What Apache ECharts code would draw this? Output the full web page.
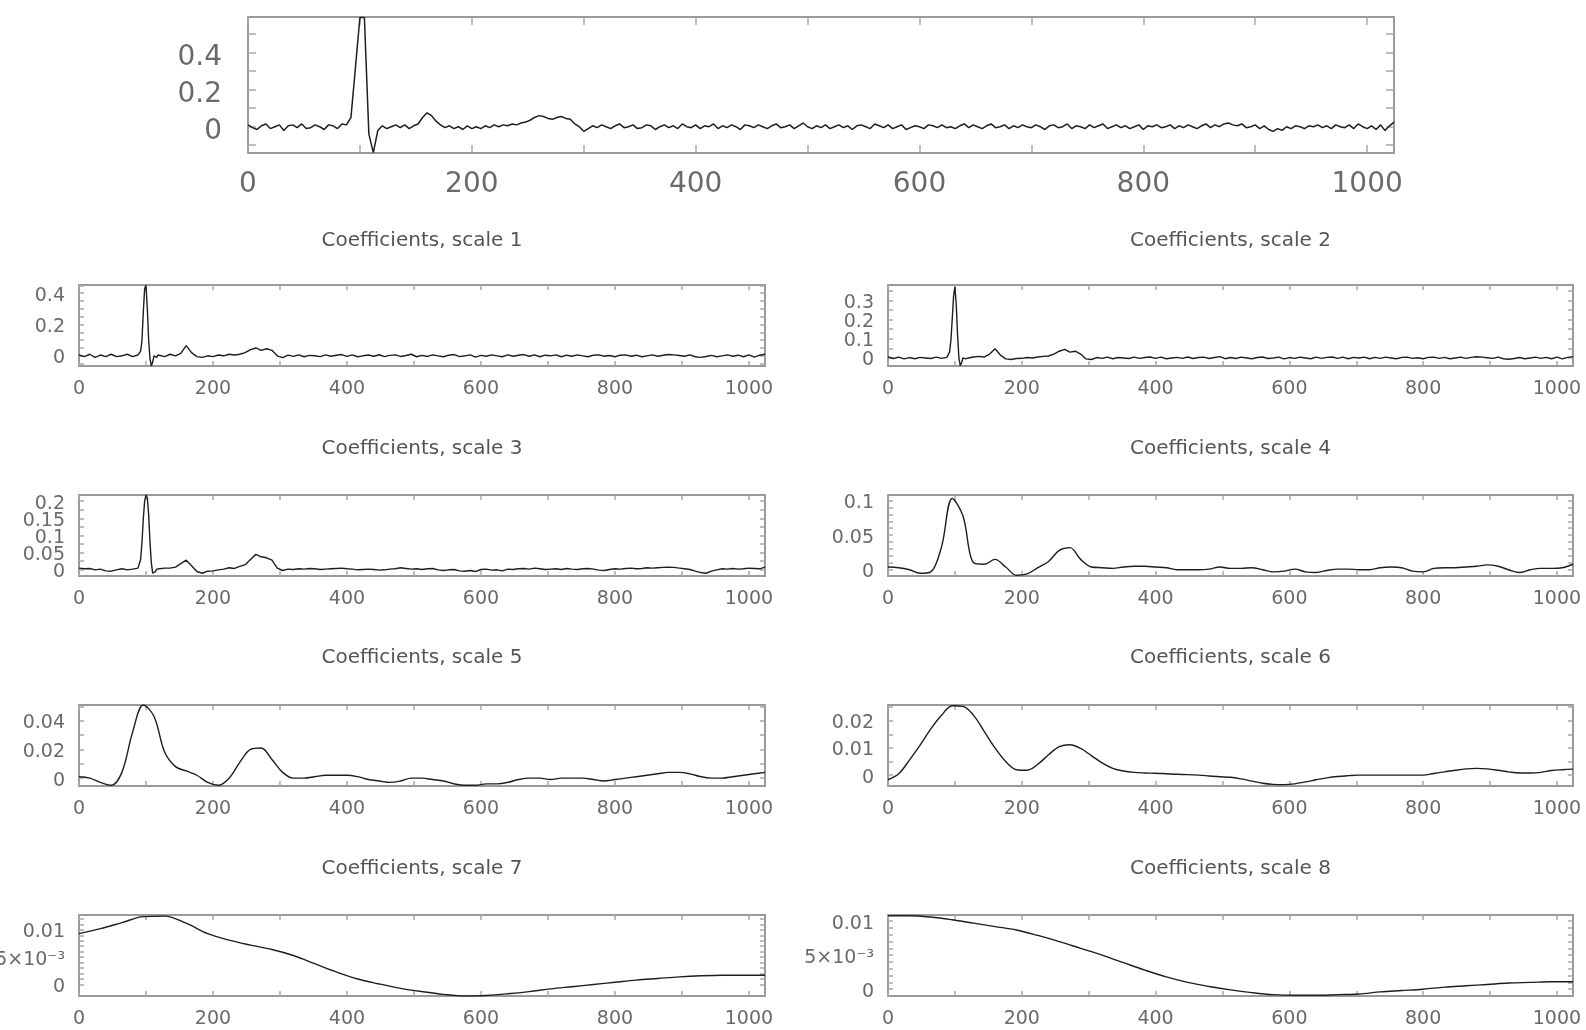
<!DOCTYPE html>
<html>
<head>
<meta charset="utf-8">
<script src="https://cdn.jsdelivr.net/npm/echarts@6/dist/echarts.min.js"></script>
<style>
  html, body { margin: 0; padding: 0; background: #fff; }
  #chart { width: 1586px; height: 1030px; }
</style>
</head>
<body>
<div id="chart"></div>
<script>
// sample positions of the raw signal (top panel)
const X_TOP = [
  0, 4, 8, 12, 16, 20, 24, 28, 32, 36, 40, 44, 48, 52, 56, 60,
  64, 68, 72, 76, 80, 84, 88, 92, 96, 100, 104, 108, 112, 116, 120, 124,
  128, 132, 136, 140, 144, 148, 152, 156, 160, 164, 168, 172, 176, 180, 184, 188,
  192, 196, 200, 204, 208, 212, 216, 220, 224, 228, 232, 236, 240, 244, 248, 252,
  256, 260, 264, 268, 272, 276, 280, 284, 288, 292, 296, 300, 304, 308, 312, 316,
  320, 324, 328, 332, 336, 340, 344, 348, 352, 356, 360, 364, 368, 372, 376, 380,
  384, 388, 392, 396, 400, 404, 408, 412, 416, 420, 424, 428, 432, 436, 440, 444,
  448, 452, 456, 460, 464, 468, 472, 476, 480, 484, 488, 492, 496, 500, 504, 508,
  512, 516, 520, 524, 528, 532, 536, 540, 544, 548, 552, 556, 560, 564, 568, 572,
  576, 580, 584, 588, 592, 596, 600, 604, 608, 612, 616, 620, 624, 628, 632, 636,
  640, 644, 648, 652, 656, 660, 664, 668, 672, 676, 680, 684, 688, 692, 696, 700,
  704, 708, 712, 716, 720, 724, 728, 732, 736, 740, 744, 748, 752, 756, 760, 764,
  768, 772, 776, 780, 784, 788, 792, 796, 800, 804, 808, 812, 816, 820, 824, 828,
  832, 836, 840, 844, 848, 852, 856, 860, 864, 868, 872, 876, 880, 884, 888, 892,
  896, 900, 904, 908, 912, 916, 920, 924, 928, 932, 936, 940, 944, 948, 952, 956,
  960, 964, 968, 972, 976, 980, 984, 988, 992, 996, 1000, 1004, 1008, 1012, 1016, 1020,
  1024
];
// sample positions for scales 1-3 (dense around the spike at ~100)
const X_FINE = [
  0, 8, 16, 24, 32, 40, 48, 56, 64, 72, 80, 88,
  90, 92, 94, 96, 98, 100, 102, 104, 106, 108, 110, 112, 114, 116, 118,
  120, 128, 136, 144, 152, 160, 168, 176, 184, 192, 200,
  208, 216, 224, 232, 240, 248, 256, 264, 272, 280, 288, 296,
  304, 312, 320, 328, 336, 344, 352, 360, 368, 376,
  384, 392, 400, 408, 416, 424, 432, 440, 448, 456,
  464, 472, 480, 488, 496, 504, 512, 520, 528, 536,
  544, 552, 560, 568, 576, 584, 592, 600, 608, 616,
  624, 632, 640, 648, 656, 664, 672, 680, 688, 696,
  704, 712, 720, 728, 736, 744, 752, 760, 768, 776,
  784, 792, 800, 808, 816, 824, 832, 840, 848, 856,
  864, 872, 880, 888, 896, 904, 912, 920, 928, 936,
  944, 952, 960, 968, 976, 984, 992, 1000, 1008, 1016,
  1024
];
const X_16 = [
  0, 16, 32, 48, 64, 80, 96, 112, 128, 144, 160, 176, 192, 208, 224, 240,
  256, 272, 288, 304, 320, 336, 352, 368, 384, 400, 416, 432, 448, 464, 480, 496,
  512, 528, 544, 560, 576, 592, 608, 624, 640, 656, 672, 688, 704, 720, 736, 752,
  768, 784, 800, 816, 832, 848, 864, 880, 896, 912, 928, 944, 960, 976, 992, 1008,
  1024
];
const X_32 = [
  0, 32, 64, 96, 128, 160, 192, 224, 256, 288, 320, 352, 384, 416, 448, 480,
  512, 544, 576, 608, 640, 672, 704, 736, 768, 800, 832, 864, 896, 928, 960, 992,
  1024
];

// raw signal (top panel), on X_TOP
const signal = [
  0.01, -0.005, -0.015, 0.005, 0.015, -0.01, 0.0, 0.01, -0.02, 0.005, 0.01,
  -0.005, 0.015, -0.01, -0.005, 0.01, 0.0, -0.015, 0.01, 0.005, -0.01, 0.015,
  0.01, 0.05, 0.32, 0.59, 0.59, -0.04, -0.14, -0.02,
  0.005, -0.01, 0.0, 0.01, -0.005, 0.01, -0.01, 0.005, 0.015, 0.05,
  0.075, 0.06, 0.03, 0.01, -0.005, 0.005, -0.01, 0.0, -0.015, 0.005,
  -0.01, 0.0, -0.01, 0.005, -0.005, 0.01, 0.0, 0.01, 0.005, 0.015,
  0.01, 0.02, 0.025, 0.035, 0.05, 0.06, 0.055, 0.045, 0.04, 0.05,
  0.055, 0.045, 0.04, 0.015, 0.0,
  -0.025, -0.01, 0.005, -0.005, 0.01, 0.0, -0.01, 0.005, 0.015, -0.005,
  0.0, 0.01, -0.01, -0.005, 0.01, 0.005, -0.015, 0.0, 0.01, -0.005,
  0.005, -0.01, 0.015, 0.0, -0.005, 0.01, -0.01, 0.005, 0.0, 0.015,
  -0.01, 0.005, -0.005, 0.01, 0.0, -0.015, 0.01, 0.005, -0.005, 0.01,
  0.0, -0.01, 0.005, 0.015, -0.005, 0.0, 0.01, -0.01, 0.005, 0.02,
  0.0, -0.01, 0.005, -0.005, 0.01, -0.01, 0.0, 0.01, -0.005, 0.005,
  -0.015, 0.005, 0.01, 0.0, -0.01, 0.015, 0.005, -0.005, 0.01, -0.01,
  0.0, 0.01, -0.015, -0.005, 0.005, 0.0, -0.01, 0.01, 0.005, -0.005,
  0.01, -0.005, 0.0, -0.01, 0.005, 0.015, -0.005, 0.01, 0.0, -0.01,
  0.005, 0.015, -0.005, 0.0, 0.01, -0.01, 0.005, -0.005, 0.01, 0.0,
  -0.005, 0.01, 0.0, -0.015, 0.005, 0.01, -0.005, 0.0, 0.015, -0.01,
  0.005, 0.0, -0.01, 0.01, -0.005, 0.005, 0.015, -0.01, 0.0, 0.01,
  -0.005, 0.005, -0.01, 0.0, 0.01, -0.015, 0.005, 0.0, 0.01, -0.005,
  0.0, 0.01, -0.01, 0.005, -0.005, 0.01, 0.0, -0.01, 0.005, 0.015,
  -0.005, 0.01, 0.0, 0.015, 0.02, 0.01, 0.005, 0.015, -0.005, 0.0,
  0.01, -0.01, 0.005, -0.015, -0.025, -0.01, -0.02, 0.0, -0.01, 0.005,
  0.0, -0.01, 0.005, 0.0, 0.01, -0.005, 0.005, -0.01, 0.01, 0.0,
  -0.005, 0.01, -0.01, 0.015, 0.0, -0.01, 0.005, -0.015, 0.01, -0.02,
  0.005, 0.025
];
const scale1 = [
  0.005, -0.005, 0.01, -0.01, 0.005, -0.005, 0.01, -0.005, 0.0, 0.01, -0.005, 0.005,
  0.01, 0.03, 0.1, 0.28, 0.43, 0.45, 0.3, 0.1, -0.02, -0.065, -0.04, 0.0, 0.01, -0.01, 0.005,
  0.005, -0.005, 0.01, 0.0, 0.015, 0.065, 0.02, -0.005, -0.01, 0.0, -0.005,
  0.005, 0.0, 0.01, 0.005, 0.01, 0.02, 0.04, 0.05, 0.035, 0.045, 0.035, 0.0,
  -0.012, 0.004, -0.004, 0.006, -0.006, 0.003, 0.0, -0.005, 0.006, -0.003,
  0.004, 0.008, -0.004, 0.006, -0.006, 0.0, 0.005, -0.003, 0.007, -0.005,
  0.003, 0.006, -0.004, 0.002, 0.01, -0.006, 0.003, -0.004, 0.006, 0.0,
  -0.006, 0.004, 0.008, -0.005, 0.0, 0.006, -0.008, 0.003, -0.003, 0.006,
  0.0, -0.006, 0.006, -0.003, 0.004, 0.008, -0.003, 0.006, -0.006, 0.004,
  0.0, 0.006, -0.006, 0.004, -0.003, 0.006, 0.0, -0.006, 0.004, 0.006,
  -0.003, 0.002, -0.006, 0.004, 0.006, -0.003, 0.004, -0.006, 0.0, 0.006,
  -0.003, 0.004, 0.008, 0.006, 0.002, -0.003, 0.006, -0.006, -0.01, -0.004,
  0.003, -0.006, 0.0, 0.006, -0.003, 0.004, -0.006, 0.006, -0.008, 0.004,
  0.01
];
const scale2 = [
  0.005, -0.003, 0.004, -0.005, 0.002, -0.004, 0.003, 0.0, -0.003, 0.004, -0.002, 0.003,
  0.01, 0.03, 0.09, 0.2, 0.32, 0.37, 0.28, 0.12, 0.0, -0.04, -0.025, 0.0, 0.005, -0.005, 0.005,
  0.0, 0.005, 0.008, 0.005, 0.02, 0.048, 0.015, -0.005, -0.008, -0.003, -0.002,
  0.002, 0.0, 0.005, 0.008, 0.01, 0.02, 0.035, 0.045, 0.03, 0.035, 0.02, -0.005,
  -0.008, 0.002, -0.002, 0.004, -0.004, 0.002, 0.0, -0.003, 0.004, -0.002,
  0.002, 0.005, -0.002, 0.004, -0.004, 0.0, 0.003, -0.002, 0.005, -0.003,
  0.002, 0.004, -0.003, 0.002, 0.007, -0.004, 0.002, -0.003, 0.004, 0.0,
  -0.004, 0.002, 0.005, -0.003, 0.0, 0.004, -0.005, 0.002, -0.002, 0.004,
  0.0, -0.004, 0.004, -0.002, 0.003, 0.005, -0.002, 0.004, -0.004, 0.003,
  0.0, 0.004, -0.004, 0.003, -0.002, 0.004, 0.0, -0.004, 0.003, 0.004,
  -0.002, 0.001, -0.004, 0.003, 0.004, -0.002, 0.003, -0.004, 0.0, 0.004,
  -0.002, 0.003, 0.006, 0.004, 0.001, -0.002, 0.004, -0.004, -0.007, -0.003,
  0.002, -0.004, 0.0, 0.004, -0.002, 0.003, -0.004, 0.004, -0.005, 0.003,
  0.007
];
const scale3 = [
  0.005, 0.003, 0.004, 0.0, 0.002, -0.003, -0.004, 0.0, 0.003, 0.0, 0.002, 0.005,
  0.01, 0.03, 0.08, 0.15, 0.2, 0.218, 0.21, 0.16, 0.08, 0.02, -0.01, -0.015, -0.005, 0.002, 0.004,
  0.003, 0.005, 0.005, 0.008, 0.018, 0.028, 0.012, -0.005, -0.01, -0.004, -0.003,
  0.0, 0.002, 0.006, 0.004, 0.01, 0.015, 0.03, 0.045, 0.038, 0.035, 0.028, 0.005,
  -0.002, 0.002, 0.001, 0.003, 0.002, 0.004, 0.003, 0.001, 0.002, 0.003,
  0.004, 0.005, 0.003, 0.002, 0.0, 0.001, 0.002, 0.001, -0.001, 0.0,
  0.002, 0.003, 0.006, 0.004, 0.002, 0.003, 0.001, 0.003, 0.004, 0.0,
  -0.002, 0.0, 0.001, -0.003, -0.004, -0.002, -0.005, 0.001, 0.002, -0.001,
  0.0, -0.003, 0.002, 0.001, 0.003, 0.004, 0.002, 0.005, 0.003, 0.001,
  0.002, 0.003, 0.001, 0.004, 0.002, 0.001, 0.003, 0.004, 0.002, -0.001,
  -0.002, 0.001, 0.003, 0.002, 0.004, 0.005, 0.003, 0.004, 0.006, 0.005,
  0.006, 0.007, 0.008, 0.007, 0.005, 0.003, 0.001, -0.004, -0.008, -0.01,
  -0.004, 0.0, 0.003, 0.002, 0.004, 0.002, 0.003, 0.005, 0.004, 0.003,
  0.008
];
const scale4 = [
  0.004, 0.003, 0.0, -0.005, -0.003, 0.033, 0.103, 0.078, 0.01, 0.008, 0.015, 0.004, -0.008, -0.006, 0.003, 0.012,
  0.028, 0.032, 0.015, 0.004, 0.003, 0.002, 0.004, 0.005, 0.005, 0.004, 0.003, 0.0, 0.0, 0.0, 0.001, 0.004,
  0.002, 0.002, 0.003, 0.0, -0.003, -0.002, 0.001, -0.003, -0.004, -0.001, 0.001, 0.001, 0.0, 0.0, 0.003, 0.004,
  0.003, -0.002, -0.003, 0.002, 0.003, 0.003, 0.004, 0.005, 0.007, 0.005, 0.0, -0.004, 0.0, 0.002, 0.002, 0.003,
  0.008
];
const scale5 = [
  0.001, 0.0, -0.003, -0.005, 0.004, 0.032, 0.051, 0.043, 0.018, 0.008, 0.005, 0.002, -0.003, -0.005, 0.0, 0.011,
  0.02, 0.021, 0.013, 0.004, 0.0, 0.0, 0.001, 0.002, 0.002, 0.002, 0.001, -0.001, -0.002, -0.003, -0.002, 0.0,
  0.0, -0.001, -0.002, -0.004, -0.005, -0.005, -0.004, -0.004, -0.003, -0.001, 0.0, 0.0, -0.001, 0.0, 0.0, 0.0,
  -0.001, -0.002, -0.001, 0.0, 0.001, 0.002, 0.003, 0.004, 0.004, 0.003, 0.001, 0.0, 0.0, 0.001, 0.002, 0.003,
  0.004
];
const scale6 = [
  -0.0017, 0.0005, 0.0055, 0.011, 0.017, 0.022, 0.0255, 0.0253, 0.022, 0.016, 0.01, 0.005, 0.002, 0.0018, 0.004, 0.0075,
  0.0105, 0.0112, 0.0098, 0.0072, 0.0045, 0.0025, 0.0015, 0.001, 0.0008, 0.0007, 0.0005, 0.0003, 0.0002, 0.0, -0.0003, -0.0006,
  -0.0008, -0.0014, -0.0022, -0.003, -0.0034, -0.0035, -0.0032, -0.0025, -0.0017, -0.001, -0.0005, -0.0002, 0.0, 0.0, 0.0, 0.0,
  0.0, 0.0, 0.0, 0.0006, 0.0012, 0.0018, 0.0023, 0.0025, 0.0023, 0.0018, 0.0012, 0.0008, 0.0008, 0.001, 0.0017, 0.002,
  0.0022
];
const scale7 = [
  0.0093, 0.0102, 0.0113, 0.0124, 0.0125, 0.0112, 0.0093, 0.0081, 0.0072, 0.0064, 0.0053, 0.0038, 0.0023, 0.001, 0.0001, -0.0007,
  -0.0013, -0.0018, -0.0021, -0.002, -0.0017, -0.0013, -0.0008, -0.0004, 0.0, 0.0004, 0.0008, 0.0011, 0.0014, 0.0016, 0.0017, 0.0017,
  0.0017
];
const scale8 = [
  0.0108, 0.0108, 0.0106, 0.0102, 0.0097, 0.0092, 0.0087, 0.0079, 0.007, 0.006, 0.005, 0.0039, 0.0028, 0.0018, 0.001, 0.0004,
  -0.0001, -0.0005, -0.0008, -0.0009, -0.0009, -0.0008, -0.0007, -0.0004, -0.0002, 0.0, 0.0003, 0.0005, 0.0007, 0.0009, 0.001, 0.0011,
  0.0011
];

// tick labels
const xLabels = [0, 200, 400, 600, 800, 1000];
const xTicks = [0, 100, 200, 300, 400, 500, 600, 700, 800, 900, 1000];
const yLabelsTop = [0, 0.2, 0.4];
const yTicksTop = [-0.1, 0, 0.1, 0.2, 0.3, 0.4, 0.5];
const yLabels1 = [0, 0.2, 0.4];
const yTicks1 = [-0.05, 0, 0.05, 0.1, 0.15, 0.2, 0.25, 0.3, 0.35, 0.4, 0.45];
const yLabels2 = [0, 0.1, 0.2, 0.3];
const yTicks2 = [0, 0.05, 0.1, 0.15, 0.2, 0.25, 0.3, 0.35];
const yLabels3 = [0, 0.1, 0.2];
const yLabels3b = [0.05, 0.15];   // crowded labels, drawn on a second left axis
const yTicks3 = [0, 0.025, 0.05, 0.075, 0.1, 0.125, 0.15, 0.175, 0.2];
const yLabels4 = [0, 0.05, 0.1];
const yTicks4 = [0, 0.01, 0.02, 0.03, 0.04, 0.05, 0.06, 0.07, 0.08, 0.09, 0.1];
const yLabels5 = [0, 0.02, 0.04];
const yTicks5 = [0, 0.01, 0.02, 0.03, 0.04, 0.05];
const yLabels6 = [0, 0.01, 0.02];
const yTicks6 = [0, 0.005, 0.01, 0.015, 0.02, 0.025];
const yLabels7 = [0, 0.005, 0.01];
const yTicks7 = [0, 0.001, 0.002, 0.003, 0.004, 0.005, 0.006, 0.007, 0.008, 0.009, 0.01, 0.011, 0.012];
const yLabels8 = [0, 0.005, 0.01];
const yTicks8 = [0, 0.001, 0.002, 0.003, 0.004, 0.005, 0.006, 0.007, 0.008, 0.009, 0.01];

const titles = [
  "Coefficients, scale 1", "Coefficients, scale 2",
  "Coefficients, scale 3", "Coefficients, scale 4",
  "Coefficients, scale 5", "Coefficients, scale 6",
  "Coefficients, scale 7", "Coefficients, scale 8",
];

const FONT = '"DejaVu Sans", sans-serif';
const FRAME = "#9a9a9a";
const TICK = "#a8a8a8";
const LABEL = "#6a6a6a";

// 布局：顶部大图 + 4x2 小图
const colLeft = [79, 888];
const colWidth = [686, 685];
const rowTop = [285, 495, 705, 915];
const titleY = [241, 449, 658, 869];

const panels = [
  { x: X_TOP, y: signal, yMin: -0.142, yMax: 0.593, yLabels: yLabelsTop, yTicks: yTicksTop,
    left: 248, top: 17, width: 1146, height: 136, big: true },
  { x: X_FINE, y: scale1, yMin: -0.065, yMax: 0.452, yLabels: yLabels1, yTicks: yTicks1 },
  { x: X_FINE, y: scale2, yMin: -0.042, yMax: 0.38, yLabels: yLabels2, yTicks: yTicks2 },
  { x: X_FINE, y: scale3, yMin: -0.018, yMax: 0.218, yLabels: yLabels3, yLabelsB: yLabels3b, yTicks: yTicks3 },
  { x: X_16, y: scale4, yMin: -0.009, yMax: 0.108, yLabels: yLabels4, yTicks: yTicks4, smooth: true },
  { x: X_16, y: scale5, yMin: -0.0055, yMax: 0.051, yLabels: yLabels5, yTicks: yTicks5, smooth: true },
  { x: X_16, y: scale6, yMin: -0.004, yMax: 0.0258, yLabels: yLabels6, yTicks: yTicks6, smooth: true },
  { x: X_32, y: scale7, yMin: -0.0021, yMax: 0.0127, yLabels: yLabels7, yTicks: yTicks7, smooth: true },
  { x: X_32, y: scale8, yMin: -0.001, yMax: 0.0109, yLabels: yLabels8, yTicks: yTicks8, smooth: true },
];

// 小图位置
panels.forEach((p, i) => {
  if (p.big) return;
  const k = i - 1;
  const col = k % 2;
  const row = Math.floor(k / 2);
  p.left = colLeft[col];
  p.width = colWidth[col];
  p.top = rowTop[row];
  p.height = 81;
  p.title = titles[k];
  p.titleX = p.left + p.width / 2;
  p.titleY = titleY[row];
});

function yFmt(v) {
  if (Math.abs(v - 0.005) < 1e-9) return "5×10⁻³";
  return String(v);
}

const grid = [], xAxis = [], yAxis = [], series = [], graphic = [];

panels.forEach((p, i) => {
  const fs = p.big ? 28 : 19;
  const tickLen = p.big ? 8 : 5;
  const lineAxis = { show: true, onZero: false, lineStyle: { color: FRAME, width: 2 } };
  const labelStyle = {
    color: LABEL, fontSize: fs, fontFamily: FONT,
    showMinLabel: true, showMaxLabel: true, hideOverlap: false,
  };
  // y 标签稍微下移一点（和原图对齐）
  const yLabelBase = Object.assign({
    show: true, margin: p.big ? 26 : 14, formatter: yFmt,
    verticalAlign: "top", lineHeight: p.big ? 10 : 5,
  }, labelStyle);

  grid.push({ left: p.left, top: p.top, width: p.width, height: p.height, outerBoundsMode: "none" });

  const xIndex = xAxis.length;
  ["bottom", "top"].forEach((pos) => {
    xAxis.push({
      gridIndex: i, type: "value", position: pos, min: 0, max: 1024,
      axisLine: lineAxis,
      axisTick: { show: true, inside: true, length: tickLen, customValues: xTicks,
        lineStyle: { color: TICK, width: 1.5 } },
      axisLabel: pos === "bottom"
        ? Object.assign({ show: true, customValues: xLabels, margin: p.big ? 18 : 14,
            formatter: (v) => String(v) }, labelStyle)
        : { show: false },
      splitLine: { show: false },
    });
  });

  const yIndex = yAxis.length;
  ["left", "right"].forEach((pos) => {
    yAxis.push({
      gridIndex: i, type: "value", position: pos, min: p.yMin, max: p.yMax,
      axisLine: lineAxis,
      axisTick: { show: true, inside: true, length: tickLen, customValues: p.yTicks,
        lineStyle: { color: TICK, width: 1.5 } },
      axisLabel: pos === "left"
        ? Object.assign({ customValues: p.yLabels }, yLabelBase)
        : { show: false },
      splitLine: { show: false },
    });
  });
  if (p.yLabelsB) {
    yAxis.push({
      gridIndex: i, type: "value", position: "left", offset: 0, min: p.yMin, max: p.yMax,
      axisLine: { show: false },
      axisTick: { show: false },
      axisLabel: Object.assign({ customValues: p.yLabelsB }, yLabelBase),
      splitLine: { show: false },
    });
  }

  series.push({
    type: "line",
    xAxisIndex: xIndex,
    yAxisIndex: yIndex,
    data: p.x.map((x, j) => [x, p.y[j]]),
    showSymbol: false,
    smooth: p.smooth ? 0.35 : false,
    clip: true,
    lineStyle: { color: "#1e1e1e", width: p.big ? 1.5 : 1.4 },
    silent: true,
  });

  if (p.title) {
    graphic.push({
      type: "text",
      x: p.titleX,
      y: p.titleY,
      style: {
        text: p.title,
        align: "center",
        verticalAlign: "middle",
        fill: "#555",
        font: "20px " + FONT,
      },
    });
  }
});

const myChart = echarts.init(document.getElementById("chart"));
myChart.setOption({
  animation: false,
  backgroundColor: "#fff",
  grid,
  xAxis,
  yAxis,
  series,
  graphic,
});
</script>
</body>
</html>
